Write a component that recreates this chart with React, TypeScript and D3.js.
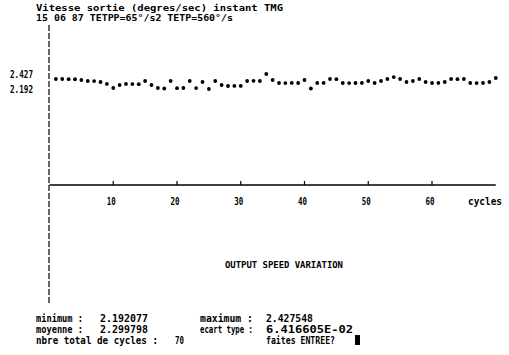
import * as d3 from "d3";

// cycle-by-cycle output speed (degres/sec)
const speeds = [
  2.349, 2.349, 2.347, 2.345, 2.333, 2.318, 2.316, 2.302, 2.271, 2.208,
  2.255, 2.271, 2.27, 2.268, 2.318, 2.255, 2.208, 2.2, 2.318, 2.205,
  2.208, 2.318, 2.206, 2.302, 2.192077, 2.318, 2.255, 2.239, 2.24, 2.241,
  2.318, 2.32, 2.318, 2.427548, 2.333, 2.286, 2.285, 2.287, 2.286, 2.333,
  2.2, 2.286, 2.287, 2.349, 2.347, 2.286, 2.285, 2.286, 2.287, 2.318,
  2.286, 2.318, 2.349, 2.38, 2.349, 2.302, 2.318, 2.349, 2.302, 2.286,
  2.287, 2.302, 2.349, 2.347, 2.349, 2.286, 2.285, 2.286, 2.302, 2.365,
];
const cycleTicks = [10, 20, 30, 40, 50, 60];
const yTicks = [2.427548, 2.192077];
const yTickLabels = ["2.427", "2.192"];

const titleLines = [
  "Vitesse sortie  (degres/sec) instant TMG",
  "15 06 87 TETPP=65°/s2 TETP=560°/s",
];

const FONT = "'DejaVu Sans Mono', monospace";

export default function App() {
  const x = d3.scaleLinear().domain([0, 70]).range([49.5, 495.75]);
  const y = d3.scaleLinear().domain([2.192077, 2.427548]).range([89, 74]);

  const t = (
    s: string,
    px: number,
    py: number,
    w: number,
    size = 10,
    anchor: "start" | "middle" = "start"
  ) => (
    <text
      x={px}
      y={py}
      fontFamily={FONT}
      fontWeight="bold"
      fontSize={size}
      textAnchor={anchor}
      textLength={w}
      lengthAdjust="spacingAndGlyphs"
    >
      {s}
    </text>
  );

  return (
    <svg
      width={509}
      height={355}
      style={{ position: "absolute", left: 0, top: 0, background: "#fff" }}
    >
      {t(titleLines[0], 36, 11, 247, 9.5)}
      {t(titleLines[1], 36, 21, 197, 9.5)}

      {/* y axis, dashed */}
      <line x1={49} x2={49} y1={25} y2={305} stroke="#000" strokeWidth={1.2} strokeDasharray="6,2" />

      {yTicks.map((v, i) => (
        <g key={i}>{t(yTickLabels[i], 10, y(v) + 4, 23, 10)}</g>
      ))}

      {/* x axis */}
      <line x1={x(0)} x2={x(70)} y1={185} y2={185} stroke="#000" strokeWidth={1.6} />
      {cycleTicks.map((c) => (
        <g key={c}>
          <line x1={x(c)} x2={x(c)} y1={181} y2={185} stroke="#000" strokeWidth={1.2} />
          {t(String(c), x(c) - 2, 205, 9, 11, "middle")}
        </g>
      ))}
      {t("cycles", 468, 205, 34, 11)}

      {speeds.map((v, i) => (
        <circle key={i} cx={x(i + 1)} cy={y(v)} r={1.9} fill="#000" />
      ))}

      {t("OUTPUT SPEED VARIATION", 225, 268, 118, 9)}

      {t("minimum :", 36, 322, 47, 10)}
      {t("2.192077", 100, 322, 48, 10)}
      {t("maximum :", 200, 322, 53, 10)}
      {t("2.427548", 266, 322, 47, 10)}
      {t("moyenne :", 36, 333, 47, 10)}
      {t("2.299798", 100, 333, 48, 10)}
      {t("ecart type :", 200, 333, 53, 10)}
      {t("6.416605E-02", 266, 333, 87, 10)}
      {t("nbre total de cycles :", 36, 344, 122, 10)}
      {t("70", 175, 344, 9, 10)}
      {t("faites ENTREE?", 266, 344, 69, 10)}
      <rect x={355} y={335} width={5} height={10} fill="#000" />
    </svg>
  );
}
